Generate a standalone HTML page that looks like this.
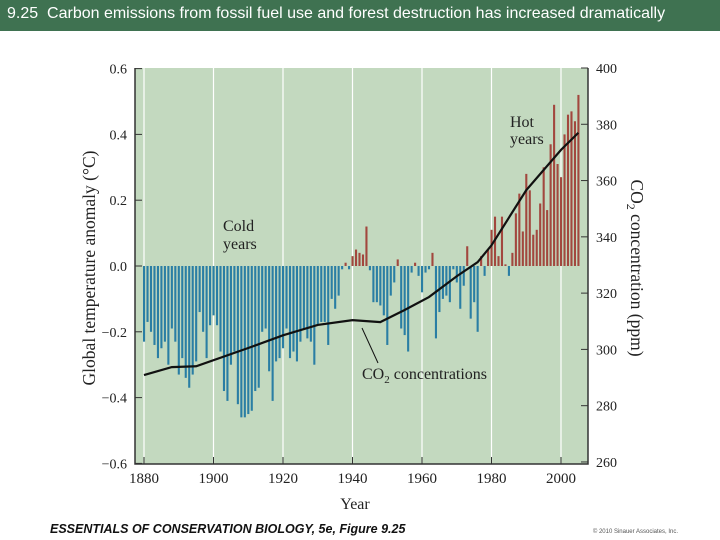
<!DOCTYPE html>
<html><head><meta charset="utf-8"><style>
body{margin:0;width:720px;height:540px;background:#fff;overflow:hidden;font-family:"Liberation Sans",sans-serif}
#title{position:absolute;left:0;top:0;width:720px;height:31px;background:#3f7251;color:#fff;font-size:16px;line-height:28px;padding-left:7px;box-sizing:border-box;white-space:nowrap}
svg{position:absolute;left:0;top:0}
</style></head><body>
<div id="title">9.25&nbsp; Carbon emissions from fossil fuel use and forest destruction has increased dramatically</div>
<svg id="chart" width="720" height="540" font-family="Liberation Serif, serif"></svg>
<script>
const startYear=1880;
const anomalies=[-0.23,-0.17,-0.20,-0.24,-0.28,-0.25,-0.23,-0.30,-0.19,-0.23,
-0.33,-0.28,-0.34,-0.37,-0.33,-0.29,-0.14,-0.20,-0.28,-0.18,
-0.15,-0.18,-0.26,-0.38,-0.41,-0.30,-0.26,-0.42,-0.46,-0.46,
-0.45,-0.44,-0.38,-0.37,-0.20,-0.19,-0.32,-0.41,-0.29,-0.28,
-0.25,-0.19,-0.28,-0.26,-0.29,-0.23,-0.19,-0.22,-0.23,-0.30,
-0.18,-0.17,-0.17,-0.24,-0.10,-0.13,-0.09,-0.01,0.01,-0.01,
0.03,0.05,0.04,0.035,0.12,-0.013,-0.11,-0.11,-0.12,-0.15,
-0.24,-0.09,-0.05,0.02,-0.19,-0.21,-0.26,-0.02,0.01,-0.03,
-0.08,-0.02,-0.01,0.04,-0.22,-0.14,-0.10,-0.09,-0.11,-0.01,
-0.05,-0.13,-0.06,0.06,-0.16,-0.11,-0.20,0.03,-0.03,0.05,
0.11,0.15,0.03,0.15,0.005,-0.03,0.04,0.16,0.22,0.105,
0.28,0.23,0.095,0.11,0.19,0.30,0.17,0.37,0.49,0.31,
0.27,0.40,0.46,0.47,0.44,0.52];
const co2Years=[1880,1888,1895,1910,1920,1930,1940,1948,1955,1962,1970,1976,1980,1990,2000,2005];
const co2Values=[290.9,293.7,294,300.5,305,308.7,310.4,309.7,314,318.6,326,331,337,356.6,370.9,377];
const xTicks=[1880,1900,1920,1940,1960,1980,2000];
const yTicks=[0.6,0.4,0.2,0.0,-0.2,-0.4,-0.6];
const yTickLabels=["0.6","0.4","0.2","0.0","\u22120.2","\u22120.4","\u22120.6"];
const rTicks=[400,380,360,340,320,300,280,260];

const X=y=>144+(y-1880)*3.475;
const Y=v=>266-v*329;
const R=p=>68+(400-p)*2.814;
const svg=document.getElementById('chart');
const NS='http://www.w3.org/2000/svg';
function mk(t,a,txt){const e=document.createElementNS(NS,t);for(const k in a)e.setAttribute(k,a[k]);if(txt!==undefined)e.textContent=txt;svg.appendChild(e);return e;}

let e=mk('rect',{x:135,y:68,width:453,height:396,fill:'#c3d9bf'});


xTicks.forEach(t=>{const g=mk('line',{x1:X(t),x2:X(t),y1:68,y2:464,stroke:'#fff','stroke-width':1.2});

});

anomalies.forEach((v,i)=>{const yr=startYear+i;const y0=Y(0),y1=Y(v);
const b=mk('rect',{x:X(yr)-1,y:Math.min(y0,y1),width:2.1,height:Math.max(0.8,Math.abs(y1-y0)),fill:v>=0?'#a2473e':'#2a7ea4'});

});

const pts=co2Years.map((y,i)=>X(y)+','+R(co2Values[i])).join(' ');
e=mk('polyline',{points:pts,fill:'none',stroke:'#111','stroke-width':2.2});


e=mk('line',{x1:362,x2:378,y1:328,y2:363,stroke:'#111','stroke-width':1});



e=mk('path',{d:'M135 68V464H588V68',fill:'none',stroke:'#333','stroke-width':1.5});


yTicks.forEach((t,i)=>{mk('line',{x1:135,x2:142,y1:Y(t),y2:Y(t),stroke:'#333'});
const l=mk('text',{x:127,y:Y(t)+5,'text-anchor':'end','font-size':14,fill:'#222'},yTickLabels[i]);

});
rTicks.forEach(t=>{mk('line',{x1:581,x2:588,y1:R(t),y2:R(t),stroke:'#333'});
const l=mk('text',{x:596,y:R(t)+5,'font-size':14,fill:'#222'},String(t));

});
xTicks.forEach(t=>{mk('line',{x1:X(t),x2:X(t),y1:457,y2:464,stroke:'#333'});
const l=mk('text',{x:X(t),y:483,'text-anchor':'middle','font-size':15,fill:'#222'},String(t));

});

e=mk('text',{x:355,y:509,'text-anchor':'middle','font-size':16,fill:'#222'},'Year');


e=mk('text',{x:0,y:0,'text-anchor':'middle','font-size':17.5,fill:'#222',transform:'translate(95,268) rotate(-90)'},'Global temperature anomaly (°C)');


e=mk('text',{x:0,y:0,'text-anchor':'middle','font-size':17.5,fill:'#222',transform:'translate(631,268) rotate(90)'});
e.innerHTML='CO<tspan dy="4" font-size="12">2</tspan><tspan dy="-4"> concentration (ppm)</tspan>';


e=mk('text',{x:223,y:231,'font-size':16,fill:'#222'},'Cold');


mk('text',{x:223,y:249,'font-size':16,fill:'#222'},'years');
e=mk('text',{x:510,y:127,'font-size':16,fill:'#222'},'Hot');


mk('text',{x:510,y:144,'font-size':16,fill:'#222'},'years');
e=mk('text',{x:362,y:379,'font-size':16,fill:'#222'});
e.innerHTML='CO<tspan dy="4" font-size="11">2</tspan><tspan dy="-4"> concentrations</tspan>';


e=mk('text',{x:50,y:533,'font-size':12.5,'font-weight':'bold','font-style':'italic','font-family':'Liberation Sans, sans-serif',fill:'#111'},'ESSENTIALS OF CONSERVATION BIOLOGY, 5e, Figure 9.25');


e=mk('text',{x:678,y:533,'text-anchor':'end','font-size':6,'font-family':'Liberation Sans, sans-serif',fill:'#555'},'© 2010 Sinauer Associates, Inc.');


</script>
</body></html>
